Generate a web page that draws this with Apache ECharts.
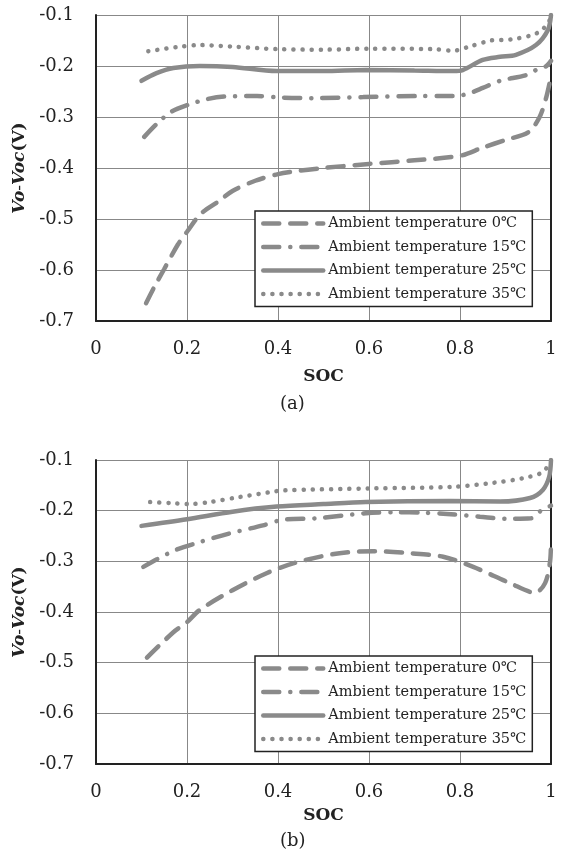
<!DOCTYPE html>
<html>
<head>
<meta charset="utf-8">
<script src="https://cdn.jsdelivr.net/npm/echarts@6/dist/echarts.min.js"></script>
<style>
  html, body { margin: 0; padding: 0; background: #fff; }
  #chart { width: 566px; height: 863px; }
</style>
</head>
<body>
<div id="chart"></div>
<script>
// series names
var names = [
  "Ambient temperature 0℃",
  "Ambient temperature 15℃",
  "Ambient temperature 25℃",
  "Ambient temperature 35℃"
];

// ---- (a) ----
var a0soc = [0.11, 0.13, 0.15, 0.18, 0.2, 0.23, 0.27, 0.3, 0.35, 0.4, 0.45, 0.5, 0.6, 0.7, 0.8, 0.85, 0.9, 0.95, 0.975, 0.99, 1.0];
var a0v   = [-0.665, -0.63, -0.598, -0.55, -0.525, -0.49, -0.465, -0.445, -0.425, -0.412, -0.405, -0.4, -0.392, -0.385, -0.376, -0.36, -0.345, -0.33, -0.3, -0.26, -0.22];
var a15soc = [0.106, 0.133, 0.165, 0.203, 0.244, 0.282, 0.354, 0.41, 0.477, 0.587, 0.712, 0.774, 0.8, 0.822, 0.85, 0.888, 0.945, 0.967, 0.99, 1.0];
var a15v   = [-0.339, -0.314, -0.29, -0.276, -0.265, -0.26, -0.259, -0.262, -0.263, -0.261, -0.259, -0.259, -0.258, -0.253, -0.243, -0.229, -0.218, -0.208, -0.2, -0.19];
var a25soc = [0.1, 0.133, 0.17, 0.228, 0.3, 0.397, 0.5, 0.593, 0.7, 0.785, 0.806, 0.85, 0.888, 0.923, 0.967, 0.993, 1.0];
var a25v   = [-0.229, -0.214, -0.204, -0.2, -0.202, -0.21, -0.21, -0.208, -0.209, -0.21, -0.208, -0.188, -0.182, -0.178, -0.159, -0.13, -0.1];
var a35soc = [0.115, 0.178, 0.228, 0.3, 0.4, 0.5, 0.6, 0.74, 0.785, 0.824, 0.868, 0.912, 0.956, 0.978, 0.993, 1.0];
var a35v   = [-0.171, -0.163, -0.159, -0.162, -0.167, -0.168, -0.166, -0.167, -0.17, -0.161, -0.15, -0.148, -0.14, -0.131, -0.116, -0.105];

// ---- (b) ----
var b0soc = [0.112, 0.17, 0.2, 0.228, 0.3, 0.376, 0.437, 0.527, 0.61, 0.69, 0.763, 0.829, 0.91, 0.965, 0.987, 0.998, 1.0];
var b0v   = [-0.49, -0.44, -0.42, -0.396, -0.357, -0.323, -0.303, -0.285, -0.28, -0.284, -0.291, -0.311, -0.343, -0.362, -0.343, -0.3, -0.26];
var b15soc = [0.104, 0.134, 0.174, 0.228, 0.293, 0.367, 0.41, 0.484, 0.593, 0.657, 0.719, 0.78, 0.844, 0.9, 0.956, 0.978, 1.0];
var b15v   = [-0.311, -0.296, -0.278, -0.262, -0.245, -0.229, -0.218, -0.215, -0.205, -0.203, -0.204, -0.207, -0.212, -0.216, -0.215, -0.2, -0.19];
var b25soc = [0.1, 0.2, 0.3, 0.397, 0.5, 0.593, 0.778, 0.888, 0.954, 0.982, 0.996, 1.0];
var b25v   = [-0.23, -0.217, -0.202, -0.192, -0.187, -0.183, -0.181, -0.182, -0.175, -0.159, -0.133, -0.1];
var b35soc = [0.119, 0.163, 0.207, 0.25, 0.316, 0.386, 0.41, 0.61, 0.785, 0.873, 0.938, 0.982, 0.998];
var b35v   = [-0.183, -0.185, -0.187, -0.183, -0.173, -0.163, -0.16, -0.156, -0.153, -0.145, -0.136, -0.124, -0.104];

var xTicks = [0, 0.2, 0.4, 0.6, 0.8, 1];
var yTicks = [-0.7, -0.6, -0.5, -0.4, -0.3, -0.2, -0.1];

function pairs(xs, ys) {
  var out = [];
  for (var i = 0; i < xs.length; i++) out.push([xs[i], ys[i]]);
  return out;
}

var FONT = "DejaVu Serif";
var GRAY = "#8a8a8a";
var styles = [
  { type: [16, 11], cap: "round" },
  { type: [16, 11, 0.1, 11], cap: "round" },
  { type: "solid", cap: "round" },
  { type: [0.1, 9], cap: "round" }
];

function mkSeries(name, idx, data, gi) {
  return {
    name: name,
    type: "line",
    xAxisIndex: gi,
    yAxisIndex: gi * 2,
    data: data,
    smooth: 0.3,
    symbol: "none",
    lineStyle: { color: GRAY, width: 4.5, type: styles[idx].type, cap: styles[idx].cap },
    itemStyle: { color: GRAY }
  };
}

function xAx(gi, gap) {
  return {
    type: "value", gridIndex: gi, min: 0, max: 1, interval: 0.2,
    name: "SOC", nameLocation: "middle", nameGap: gap,
    nameTextStyle: { fontFamily: FONT, fontWeight: "bold", fontSize: 17, color: "#222" },
    axisLine: { lineStyle: { color: "#222", width: 2 } },
    axisTick: { show: false },
    axisLabel: { fontFamily: FONT, fontSize: 18, color: "#222", margin: 19 },
    splitLine: { show: true, lineStyle: { color: "#888", width: 1 } }
  };
}
function yAx(gi) {
  return {
    type: "value", gridIndex: gi, min: -0.7, max: -0.1, interval: 0.1,
    name: "{i|Vo}{n|-}{i|Voc}{b|(V)}", nameLocation: "middle", nameGap: 66,
    nameTextStyle: {
      color: "#222",
      rich: {
        i: { fontFamily: FONT, fontStyle: "italic", fontWeight: "bold", fontSize: 17, color: "#222" },
        n: { fontFamily: FONT, fontSize: 17, color: "#222" },
        b: { fontFamily: FONT, fontWeight: "bold", fontSize: 17, color: "#222" }
      }
    },
    axisLine: { show: true, lineStyle: { color: "#222", width: 2 } },
    axisTick: { show: false },
    axisLabel: { fontFamily: FONT, fontSize: 18, color: "#222", margin: 22 },
    splitLine: { show: true, lineStyle: { color: "#888", width: 1 } }
  };
}
function yRight(gi) {
  return {
    type: "value", gridIndex: gi, min: -0.7, max: -0.1, interval: 0.1, position: "right",
    axisLine: { show: true, lineStyle: { color: "#222", width: 2 } },
    axisTick: { show: false }, axisLabel: { show: false }, splitLine: { show: false }
  };
}
function legendAt(top) {
  return {
    data: names, orient: "vertical", left: 255, top: top,
    backgroundColor: "#fff", borderColor: "#222", borderWidth: 1.5,
    padding: [5, 6], itemGap: 8.5, itemWidth: 60, itemHeight: 14,
    selectedMode: false,
    itemStyle: { opacity: 0 },
    lineStyle: { width: 4.5 },
    textStyle: { fontFamily: FONT, fontSize: 14.5, color: "#222" }
  };
}

var chart = echarts.init(document.getElementById("chart"));
chart.setOption({
  animation: false,
  backgroundColor: "#fff",
  grid: [
    { left: 96, top: 15, width: 455, height: 306 },
    { left: 96, top: 460, width: 455, height: 304 }
  ],
  xAxis: [xAx(0, 47), xAx(1, 43)],
  yAxis: [yAx(0), yRight(0), yAx(1), yRight(1)],
  legend: [legendAt(211), legendAt(656)],
  series: [
    mkSeries(names[0], 0, pairs(a0soc, a0v), 0),
    mkSeries(names[1], 1, pairs(a15soc, a15v), 0),
    mkSeries(names[2], 2, pairs(a25soc, a25v), 0),
    mkSeries(names[3], 3, pairs(a35soc, a35v), 0),
    mkSeries(names[0], 0, pairs(b0soc, b0v), 1),
    mkSeries(names[1], 1, pairs(b15soc, b15v), 1),
    mkSeries(names[2], 2, pairs(b25soc, b25v), 1),
    mkSeries(names[3], 3, pairs(b35soc, b35v), 1)
  ],
  graphic: [
    { type: "text", left: 280, top: 395, style: { text: "(a)", font: "18px 'DejaVu Serif'", fill: "#222" } },
    { type: "text", left: 280, top: 832, style: { text: "(b)", font: "18px 'DejaVu Serif'", fill: "#222" } }
  ]
});
</script>
</body>
</html>
